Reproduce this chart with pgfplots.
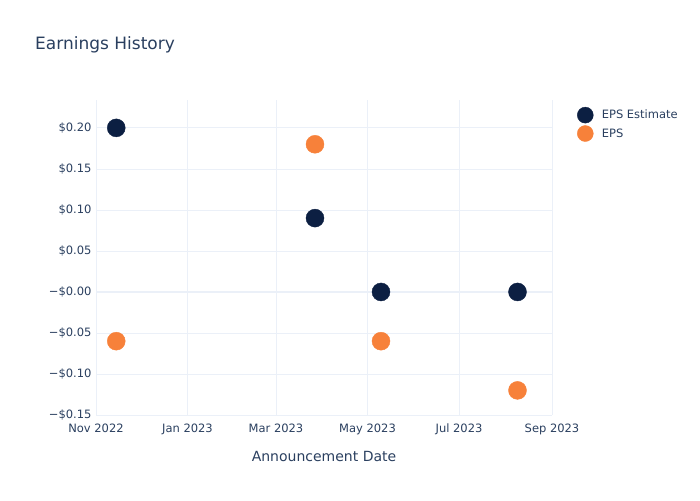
\documentclass[border=0pt]{standalone}
\usepackage{fontspec}
\setmainfont{DejaVu Sans}
\usepackage{pgfplots}
\pgfplotsset{compat=1.18}
\begin{document}
\begin{tikzpicture}[x=1pt,y=1pt]
\definecolor{txt}{HTML}{2A3F5F}
\definecolor{gridc}{HTML}{EBF0F8}
\definecolor{navy}{RGB}{12,31,66}
\definecolor{orng}{RGB}{247,129,58}
\path (0,0) rectangle (700,500);
\node[anchor=west, text=txt, font=\fontsize{17}{20}\selectfont, inner sep=0pt] at (35,455) {Earnings History};
\begin{axis}[
    at={(96pt,85pt)}, anchor=south west,
    scale only axis, width=456pt, height=315pt,
    xmin=0, xmax=304, ymin=-0.15, ymax=0.234,
    axis line style={draw=none},
    tick style={draw=none},
    grid=major, grid style={gridc, line width=0.8pt},
    xtick={0,61,120,181,242,304},
    xticklabels={Nov 2022,Jan 2023,Mar 2023,May 2023,Jul 2023,Sep 2023},
    ytick={-0.15,-0.1,-0.05,0,0.05,0.1,0.15,0.2},
    yticklabels={−\$0.15,−\$0.10,−\$0.05,−\$0.00,\$0.05,\$0.10,\$0.15,\$0.20},
    ticklabel style={text=txt, font=\fontsize{11.5}{14}\selectfont},
    xticklabel style={yshift=-5pt},
    yticklabel style={xshift=-1pt},
    xlabel={Announcement Date},
    xlabel style={text=txt, font=\fontsize{14}{16}\selectfont, yshift=-10pt},
    legend style={at={(1.048,0.985)}, anchor=north west, draw=none, fill=none,
        text=txt, font=\fontsize{11.5}{14}\selectfont, row sep=2pt,
        nodes={inner sep=2.5pt}},
    legend image code/.code={\fill[#1] (6pt,0) circle (8pt); \path[draw=none] (-2pt,0) -- (20pt,0);},
    legend cell align=left,
    clip=false,
]
\draw[gridc, line width=1.6pt] (axis cs:0,0) -- (axis cs:304,0);
\addplot[only marks, mark=*, mark size=9pt, navy, mark options={draw=navy, fill=navy}] coordinates {
(13.5,0.20) (146,0.09) (190,0.00) (281,0.00)
};
\addlegendentry{EPS Estimate}
\addplot[only marks, mark=*, mark size=9pt, orng, mark options={draw=orng, fill=orng}] coordinates {
(13.5,-0.06) (146,0.18) (190,-0.06) (281,-0.12)
};
\addlegendentry{EPS}
\end{axis}
\end{tikzpicture}
\end{document}
